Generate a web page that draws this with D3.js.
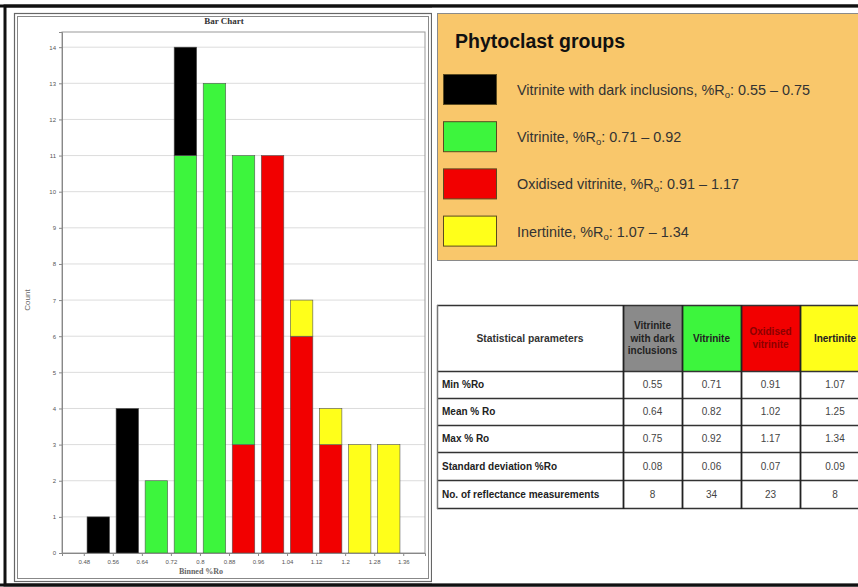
<!DOCTYPE html>
<html>
<head>
<meta charset="utf-8">
<script src="https://cdn.jsdelivr.net/npm/d3@7"></script>
<style>
  body { margin: 0; background: #fff; }
  svg { display: block; font-family: 'Liberation Sans', Arial, sans-serif; }
</style>
</head>
<body>
<div class="chart"></div>
<script>
// 直方图数据 (每个 bin 宽 0.08)
const binStarts = [0.48, 0.56, 0.64, 0.72, 0.80, 0.88, 0.96, 1.04, 1.12, 1.20, 1.28]
const tickLabels = ['0.48', '0.56', '0.64', '0.72', '0.8', '0.88', '0.96', '1.04', '1.12', '1.2', '1.28', '1.36']
const darkCounts = [1, 4, 0, 3, 0, 0, 0, 0, 0, 0, 0]
const vitriniteCounts = [0, 0, 2, 11, 13, 8, 0, 0, 0, 0, 0]
const oxidisedCounts = [0, 0, 0, 0, 0, 3, 11, 6, 3, 0, 0]
const inertiniteCounts = [0, 0, 0, 0, 0, 0, 0, 1, 1, 3, 3]
const yTicks = [0, 1, 2, 3, 4, 5, 6, 7, 8, 9, 10, 11, 12, 13, 14]

// 图例
const legendNames = ['Vitrinite with dark inclusions', 'Vitrinite', 'Oxidised vitrinite', 'Inertinite']
const legendRanges = ['0.55 – 0.75', '0.71 – 0.92', '0.91 – 1.17', '1.07 – 1.34']
const groupColors = ['#000000', '#3df53d', '#f20000', '#ffff1a']

// 统计表
const headerLines = [['Vitrinite', 'with dark', 'inclusions'], ['Vitrinite'], ['Oxidised', 'vitrinite'], ['Inertinite']]
const headerFills = ['#8a8a8a', '#3df53d', '#f20000', '#ffff1a']
const headerText = ['#222', '#222', '#8a0000', '#222']
const rowLabels = ['Min %Ro', 'Mean % Ro', 'Max % Ro', 'Standard deviation %Ro', 'No. of reflectance measurements']
const minRo = ['0.55', '0.71', '0.91', '1.07']
const meanRo = ['0.64', '0.82', '1.02', '1.25']
const maxRo = ['0.75', '0.92', '1.17', '1.34']
const stdRo = ['0.08', '0.06', '0.07', '0.09']
const nMeas = ['8', '34', '23', '8']

const W = 858, H = 587

const svg = d3.select('.chart')
  .append('svg')
    .attr('width', W)
    .attr('height', H)

// 外框
svg.append('rect').attr('x', 5).attr('y', 6).attr('width', W).attr('height', 579)
  .attr('fill', 'none').attr('stroke', '#111').attr('stroke-width', 3)

// 左边图表面板 (双线边框)
svg.append('rect').attr('x', 14.5).attr('y', 13.5).attr('width', 417).attr('height', 568)
  .attr('fill', '#fff').attr('stroke', '#666').attr('stroke-width', 1.2)
svg.append('rect').attr('x', 17.5).attr('y', 16.5).attr('width', 411).attr('height', 562)
  .attr('fill', '#fff').attr('stroke', '#888').attr('stroke-width', 1)

const margin = {top: 32, left: 62}
const plotW = 425 - 62
const plotH = 553 - 32

const g = svg.append('g')
  .attr('transform', `translate(${margin.left}, ${margin.top})`)

const xScale = d3.scaleLinear().domain([0.42, 1.42]).range([0, plotW])
const yScale = d3.scaleLinear().domain([0, 14.42]).range([plotH, 0])

// 网格线
g.append('g')
  .selectAll('line')
  .data(yTicks.slice(1))
  .enter()
  .append('line')
    .attr('x1', 0).attr('x2', plotW)
    .attr('y1', d => yScale(d)).attr('y2', d => yScale(d))
    .attr('stroke', '#dcdcdc').attr('stroke-width', 1)

g.append('rect').attr('width', plotW).attr('height', plotH)
  .attr('fill', 'none').attr('stroke', '#999').attr('stroke-width', 1)

// 堆叠: 红在下, 然后绿, 黑, 黄在最上
const table = binStarts.map((b, i) => ({
  bin: b,
  dark: darkCounts[i],
  vitrinite: vitriniteCounts[i],
  oxidised: oxidisedCounts[i],
  inertinite: inertiniteCounts[i]
}))
const keys = ['oxidised', 'vitrinite', 'dark', 'inertinite']
const keyColor = {dark: groupColors[0], vitrinite: groupColors[1], oxidised: groupColors[2], inertinite: groupColors[3]}
const series = d3.stack().keys(keys)(table)

const binW = 0.08
const gap = 0.009

g.selectAll('.layer')
  .data(series)
  .enter()
  .append('g')
    .attr('class', 'layer')
    .attr('fill', d => keyColor[d.key])
  .selectAll('rect')
  .data(d => d.filter(p => p[1] - p[0] > 0))
  .enter()
  .append('rect')
    .attr('x', d => xScale(d.data.bin + gap))
    .attr('width', d => xScale(d.data.bin + binW - gap) - xScale(d.data.bin + gap))
    .attr('y', d => yScale(d[1]))
    .attr('height', d => yScale(d[0]) - yScale(d[1]))
    .attr('stroke', '#555')
    .attr('stroke-width', 0.6)

// 坐标轴
const xTickVals = tickLabels.map(Number)
const xAxis = g.append('g')
  .attr('transform', `translate(0, ${plotH})`)
  .call(d3.axisBottom(xScale).tickValues(xTickVals).tickSize(3).tickFormat((d, i) => tickLabels[i]))
xAxis.select('.domain').attr('stroke', '#888')
xAxis.selectAll('line').attr('stroke', '#888')
xAxis.selectAll('text').attr('font-size', 6).attr('fill', '#555').attr('dy', '0.9em')

const yAxis = g.append('g')
  .call(d3.axisLeft(yScale).tickValues(yTicks).tickSize(3).tickFormat(d3.format('d')))
yAxis.select('.domain').attr('stroke', '#888')
yAxis.selectAll('line').attr('stroke', '#888')
yAxis.selectAll('text').attr('font-size', 6).attr('fill', '#555')

// 标题
svg.append('text').attr('x', 224).attr('y', 24)
  .attr('text-anchor', 'middle')
  .style('font-family', "'Liberation Serif', 'Times New Roman', serif")
  .attr('font-weight', 'bold').attr('font-size', 9).attr('fill', '#333')
  .text('Bar Chart')

svg.append('text').attr('transform', 'translate(30, 300) rotate(-90)')
  .attr('text-anchor', 'middle').attr('font-size', 8).attr('fill', '#666')
  .text('Count')

svg.append('text').attr('x', 201).attr('y', 574)
  .attr('text-anchor', 'middle')
  .style('font-family', "'Liberation Serif', 'Times New Roman', serif")
  .attr('font-weight', 'bold').attr('font-size', 8).attr('fill', '#666')
  .text('Binned %Ro')

// 右边面板
svg.append('rect').attr('x', 432).attr('y', 7.5).attr('width', W).attr('height', 576)
  .attr('fill', '#fff')

// 图例框
const legend = svg.append('g')
legend.append('rect').attr('x', 437.5).attr('y', 13.5).attr('width', 430).attr('height', 247)
  .attr('fill', '#f9c76b').attr('stroke', '#8a8a8a').attr('stroke-width', 1)
legend.append('text').attr('x', 455).attr('y', 48)
  .attr('font-weight', 'bold').attr('font-size', 19.5).attr('fill', '#111')
  .text('Phytoclast groups')

const items = legend.selectAll('.item')
  .data(legendNames)
  .enter()
  .append('g')
    .attr('class', 'item')
    .attr('transform', (d, i) => `translate(0, ${74 + i * 47.2})`)

items.append('rect')
  .attr('x', 443.5).attr('y', 0.5).attr('width', 53).attr('height', 30)
  .attr('fill', (d, i) => groupColors[i]).attr('stroke', '#5a4a20').attr('stroke-width', 1)

const lt = items.append('text')
  .attr('x', 517).attr('y', 21)
  .attr('font-size', 14.4).attr('fill', '#333')
lt.append('tspan').text(d => d + ', %R')
lt.append('tspan').attr('font-size', 9.5).attr('dy', 3).text('o')
lt.append('tspan').attr('dy', -3).text((d, i) => ': ' + legendRanges[i])

// 统计表
const colX = [437, 623, 682, 741, 800, 870]
const rowY = [305, 371, 398, 425, 452, 480, 508]
const rowValues = [minRo, meanRo, maxRo, stdRo, nMeas]

const tbl = svg.append('g')
tbl.selectAll('.hcell')
  .data(headerFills)
  .enter()
  .append('rect')
    .attr('x', (d, i) => colX[i + 1]).attr('y', rowY[0])
    .attr('width', (d, i) => colX[i + 2] - colX[i + 1]).attr('height', rowY[1] - rowY[0])
    .attr('fill', d => d)

tbl.append('text').attr('x', (colX[0] + colX[1]) / 2).attr('y', 342)
  .attr('text-anchor', 'middle').attr('font-weight', 'bold').attr('font-size', 10.3).attr('fill', '#333')
  .text('Statistical parameters')

headerLines.forEach((lines, i) => {
  const cx = (colX[i + 1] + colX[i + 2]) / 2
  const cy = (rowY[0] + rowY[1]) / 2
  const t = tbl.append('text').attr('text-anchor', 'middle')
    .attr('font-weight', 'bold').attr('font-size', 10).attr('fill', headerText[i])
  lines.forEach((s, j) => {
    t.append('tspan').attr('x', cx)
      .attr('y', cy + 3.5 + (j - (lines.length - 1) / 2) * 12.5)
      .text(s)
  })
})

rowLabels.forEach((lab, r) => {
  const y = (rowY[r + 1] + rowY[r + 2]) / 2 + 3.5
  tbl.append('text').attr('x', 442).attr('y', y)
    .attr('font-weight', 'bold').attr('font-size', 10).attr('fill', '#222')
    .text(lab)
  rowValues[r].forEach((v, c) => {
    tbl.append('text').attr('x', (colX[c + 1] + colX[c + 2]) / 2).attr('y', y)
      .attr('text-anchor', 'middle').attr('font-size', 10).attr('fill', '#444')
      .text(v)
  })
})

// 表格线
tbl.selectAll('.hl')
  .data(rowY)
  .enter()
  .append('line')
    .attr('x1', colX[0]).attr('x2', W)
    .attr('y1', d => d + 0.5).attr('y2', d => d + 0.5)
    .attr('stroke', '#333').attr('stroke-width', 1.5)
tbl.selectAll('.vl')
  .data(colX.slice(0, 5))
  .enter()
  .append('line')
    .attr('x1', d => d + 0.5).attr('x2', d => d + 0.5)
    .attr('y1', rowY[0]).attr('y2', rowY[6] + 1)
    .attr('stroke', (d, i) => i === 0 ? '#777' : '#222').attr('stroke-width', (d, i) => i === 0 ? 1.5 : 1.8)

// 外框上下线重画
svg.append('line').attr('x1', 0).attr('x2', W).attr('y1', 6).attr('y2', 6)
  .attr('stroke', '#111').attr('stroke-width', 3)
svg.append('line').attr('x1', 0).attr('x2', W).attr('y1', 585).attr('y2', 585)
  .attr('stroke', '#111').attr('stroke-width', 3)
</script>
</body>
</html>
